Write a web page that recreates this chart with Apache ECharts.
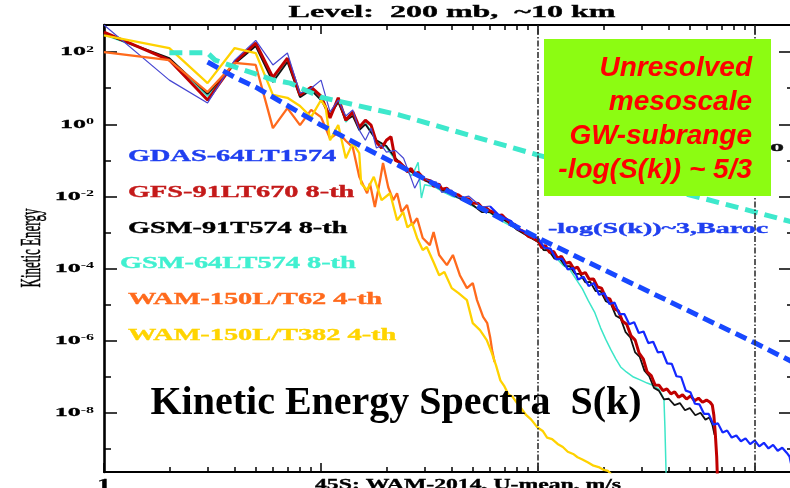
<!DOCTYPE html>
<html>
<head>
<meta charset="utf-8">
<script src="https://cdn.jsdelivr.net/npm/echarts@6/dist/echarts.min.js"></script>
<style>
  html, body { margin: 0; padding: 0; background: #ffffff; }
  #chart { width: 790px; height: 488px; }
</style>
</head>
<body>
<div id="chart"></div>
<script>
// Kinetic energy spectra S(k) at 200 mb: pairs of [wavenumber k, energy]
const gdas = [[1,560],[2,16.7],[3,3.9],[4,60],[5,210],[6,44],[7,94],[8,7.2],[9,10],[10,16.7],[11,2.2],[12,4.7],[13,1.7],[14,2.5],[15,0.69],[16,0.36],[17,0.78],[18,0.22],[19,0.26],[20,0.17],[22,0.19],[24,0.115],[26,0.032],[27,0.017],[29,0.039],[31,0.028],[34,0.025],[36,0.013],[40,0.015],[43,0.0091],[48,0.0102],[55,0.0051],[60,0.0054],[65,0.0033],[70,0.0025],[75,0.0021],[80,0.0013],[90,9.8e-4],
  [100,6.9e-4],[107,3.8e-4],[114,3.6e-4],[121,1.82e-4],[129,1.9e-4],[137,9.5e-5],[145,1.05e-4],[153,5.0e-5],[162,6.0e-5],[171,3.3e-5],[181,4.0e-5],[191,1.9e-5],[202,2.1e-5],[213,1.05e-5],[225,1.15e-5],[237,5.5e-6],[250,5.5e-6],[263,2.9e-6],[277,3.3e-6],[291,1.66e-6],[306,1.82e-6],[322,8.7e-7],[339,9.5e-7],[356,4.8e-7],[374,5.0e-7],[393,2.4e-7],[413,2.3e-7],[434,1.05e-7],[456,1.0e-7],[479,4.2e-8],[503,3.8e-8],[528,1.82e-8],[554,1.74e-8],[582,9.5e-9],[611,9.5e-9],[642,4.8e-9],[674,5.2e-9],[708,2.9e-9],[743,3.3e-9],[780,2.1e-9],[819,2.4e-9],[860,1.66e-9],[903,2.0e-9],[948,1.38e-9],[995,1.74e-9],[1045,1.2e-9],[1097,1.51e-9],[1152,1.05e-9],[1210,1.32e-9],[1270,9.1e-10],[1333,1.1e-9],[1400,7.9e-10],[1440,6.3e-10],[1470,3.5e-10],[1490,2.2e-10]];

const gfs = [[1,355],[2,60],[3,4.7],[4,53],[5,178],[6,20],[7,68],[8,6.5],[9,10.7],[10,6.0],[11,1.5],[12,5.4],[13,1.3],[14,2.2],[15,0.83],[16,1.3],[17,0.95],[18,0.32],[19,0.22],[20,0.36],[21,0.45],[22,0.10],[23,0.089],[24,0.069],[25,0.048],[26,0.060],[27,0.040],[28,0.047],[30,0.030],[32,0.027],[33,0.019],[35,0.022],[36,0.016],[38,0.017],[40,0.0123],[43,0.0110],[45,0.0090],[48,0.0085],[50,0.0066],[53,0.0064],[55,0.0050],[58,0.0047],[60,0.0040],[63,0.0036],[65,0.0029],[68,0.0031],[70,0.0026],[73,0.0021],[75,0.0016],[78,0.0017],[80,0.0013],[85,0.0011],[90,7.9e-4],[95,7.0e-4],
  [100,5.8e-4],[104,3.8e-4],[108,4.4e-4],[113,2.8e-4],[118,3.0e-4],[123,1.95e-4],[128,2.2e-4],[134,1.41e-4],[140,1.51e-4],[146,1.0e-4],[152,1.1e-4],[158,7.1e-5],[165,7.8e-5],[172,5.1e-5],[180,5.2e-5],[188,3.1e-5],[196,2.9e-5],[205,1.58e-5],[214,1.45e-5],[224,7.8e-6],[234,6.8e-6],[245,3.5e-6],[256,2.9e-6],[268,1.38e-6],[280,1.05e-6],[292,4.6e-7],[305,3.2e-7],[318,1.38e-7],[332,1.1e-7],[346,6.0e-8],[361,5.9e-8],[376,4.2e-8],[392,4.7e-8],[409,3.4e-8],[426,3.9e-8],[444,2.75e-8],[463,3.2e-8],[483,2.45e-8],[504,3.0e-8],[526,2.2e-8],[548,2.6e-8],[572,2.0e-8],[597,2.3e-8],[620,2.0e-8],[635,1.66e-8],[645,8.9e-9],[655,2.8e-9],[665,6.3e-10],[672,1e-10]];

const gsm91 = [[1,320],[2,68],[3,6.9],[4,47],[5,147],[6,14.8],[7,53],[8,5.6],[9,8.9],[10,4.7],[11,1.8],[12,4.1],[13,1.3],[14,1.7],[15,0.69],[16,1.0],[18,0.36],[20,0.25],[22,0.115],[24,0.069],[26,0.048],[28,0.042],[30,0.028],[33,0.022],[36,0.015],[40,0.0117],[45,0.0079],[50,0.0058],[55,0.0037],[60,0.0037],[65,0.0026],[70,0.0022],[75,0.0017],[80,0.0012],[90,7.9e-4],
  [100,5.5e-4],[106,3.3e-4],[112,3.2e-4],[119,1.9e-4],[126,1.9e-4],[133,1.2e-4],[140,1.17e-4],[148,7.2e-5],[156,7.2e-5],[165,4.2e-5],[174,4.3e-5],[184,2.4e-5],[194,2.4e-5],[205,1.26e-5],[216,1.1e-5],[228,5.0e-6],[240,4.2e-6],[253,1.74e-6],[266,1.26e-6],[280,4.8e-7],[294,3.6e-7],[309,1.5e-7],[325,1.05e-7],[342,5.0e-8],[360,4.2e-8],[380,2.4e-8],[400,2.5e-8],[425,1.66e-8],[450,1.9e-8],[475,1.2e-8],[500,1.38e-8],[530,8.7e-9],[560,1.02e-8],[590,6.6e-9],[615,7.6e-9],[635,4.8e-9],[650,2.5e-9]];

const gsm64 = [[1,300],[2,66],[3,6.0],[4,50],[5,155],[6,16.7],[7,60],[8,6.0],[9,10],[10,5.4],[11,1.58],[12,4.7],[13,1.15],[14,1.8],[15,0.78],[16,1.15],[18,0.34],[20,0.23],[22,0.10],[24,0.069],[26,0.037],[27,0.054],[28,0.089],[29,0.0091],[30,0.021],[33,0.019],[36,0.014],[40,0.0102],[45,0.0085],[50,0.0054],[60,0.0035],[70,0.0019],[80,0.00126],[90,7.9e-4],
  [100,5.5e-4],[110,3.2e-4],[120,2.1e-4],[130,1.26e-4],[140,9.5e-5],[150,5.0e-5],[160,2.75e-5],[170,1.32e-5],[182,6.3e-6],[194,2.3e-6],[205,1.1e-6],[216,5.8e-7],[228,3.2e-7],[240,1.9e-7],[255,1.38e-7],[275,1.0e-7],[295,8.3e-8],[318,6.8e-8],[340,5.8e-8],[360,4.6e-8],[380,2.5e-8],[384,4.0e-9],[387,6.3e-10],[390,1e-10]];

const wamT62 = [[1,100],[2,60],[3,7.8],[4,50],[5,44],[6,0.78],[7,2.8],[8,0.95],[9,2.5],[10,1.58],[11,0.40],[12,0.60],[13,0.35],[14,0.23],[15,0.035],[16.3,0.0123],[16.8,0.023],[17.7,0.0051],[18.7,0.028],[19.3,0.085],[20.4,0.018],[21.5,0.0079],[22.4,0.0123],[23.5,0.0037],[24.9,0.0058],[26.3,0.0016],[27.7,0.0025],[29.4,7.1e-4],[31.7,4.5e-4],[33,0.00103],[35,2.4e-4],[38,1.26e-4],[40.5,2.4e-4],[43.6,6.6e-5],[47,2.9e-5],[50,4.0e-5],[52.3,1.35e-5],[55.8,4.6e-6],[58.3,3.1e-6],[60.1,1.29e-6],[61.4,5.5e-7],[63,2.6e-7]];

const wamT382 = [[1,290],[2,129],[3,13.8],[4,129],[5,94],[6,6.5],[7,5.4],[8,3.2],[9,1.58],[10,4.7],[10.5,3.0],[11,0.36],[12,0.95],[13,0.115],[14,0.30],[15,0.158],[15.3,0.023],[16.3,0.015],[17.5,0.035],[19,0.0079],[20.8,0.0123],[22.4,0.0022],[23.9,0.0037],[25,0.0014],[26.3,0.0018],[27.7,7.1e-4],[29.4,3.3e-4],[30.7,4.0e-4],[33,1.51e-4],[35,6.6e-5],[37,8.1e-5],[40,2.9e-5],[43,2.1e-5],[47,1.35e-5],[50,3.1e-6],[54,2.0e-6],[58,1.05e-6],[61,4.9e-7],[64,2.1e-7],[67,8.1e-8],[70,5.5e-8],[73,3.3e-8],[76,2.9e-8],[80,1.9e-8],[84,1.3e-8],[88,8.9e-9],[93,6.6e-9],[99,4.1e-9],[105,3.2e-9],[110,2.1e-9],[116,1.9e-9],[123,1.4e-9],[130,1.15e-9],[137,8.5e-10],[145,7.4e-10],[152,6.0e-10],[160,5.2e-10],[170,4.3e-10],[180,3.5e-10],[190,3.2e-10],[200,2.7e-10],[210,2.5e-10],[218,2.0e-10],[225,1e-10]];

// Reference slopes: -5/3 (mesoscale) and -3 (baroclinic)
const slopeMeso = [[2,95],[3,95],[3.25,60],[4.4,32],[6,17],[7.2,13.8],[10,5.6],[23,1.8],[100,0.14],[1000,0.0037],[1510,0.0019]];
const slopeBaroc = [[3,53],[4,20],[5,10.7],[10,0.95],[100,7.1e-4],[1000,8.7e-7],[1510,2.5e-7]];

const seriesNames = ['GDAS-64LT1574', 'GFS-91LT670 8-th', 'GSM-91T574 8-th', 'GSM-64LT574 8-th', 'WAM-150L/T62 4-th', 'WAM-150L/T382 4-th'];
const lineColors = ['#4646d2', '#c00000', '#111111', '#3de6c8', '#ff6a1c', '#ffd200'];
const labelColors = ['#1f3ff0', '#c41a1a', '#000000', '#40f0d0', '#ff6a1c', '#ffd400'];
const lineWidths = [1.2, 3.0, 1.8, 1.5, 2.3, 2.3];
// the dense, noisy tail of the GDAS spectrum is drawn heavier
const gdasTailStart = 60;
const gdasTailColor = '#1428ff';
const gdasTailWidth = 2.2;

// Axis ranges and ticks
const kRange = [1, 1510];
const eRange = [2.34e-10, 562];
const kMajorTicks = [1, 10, 100, 1000];
const kMinorTicks = [2,3,4,5,6,7,8,9,20,30,40,50,60,70,80,90,200,300,400,500,600,700,800,900];
const eLabelExponents = [2, 0, -2, -4, -6, -8];
const eMinorExponents = [1, -1, -3, -5, -7, -9];
const kTickLabels = ['1'];
const kMarkers = [100, 1000];

const lg = Math.log10;
const toLog = pts => pts.map(p => [lg(p[0]), lg(p[1])]);

function xAxisCfg(position, ticks, len, lineWidth) {
  return {
    type: 'value', position, min: lg(kRange[0]), max: lg(kRange[1]),
    axisLine: { show: lineWidth > 0, onZero: false, lineStyle: { color: '#000', width: lineWidth } },
    axisTick: { show: true, inside: true, length: len, customValues: ticks.map(lg), lineStyle: { color: '#000', width: 1.5 } },
    axisLabel: { show: false }, splitLine: { show: false }
  };
}
function yAxisCfg(position, exps, len, lineWidth) {
  return {
    type: 'value', position, min: lg(eRange[0]), max: lg(eRange[1]),
    axisLine: { show: lineWidth > 0, onZero: false, lineStyle: { color: '#000', width: lineWidth } },
    axisTick: { show: true, inside: true, length: len, customValues: exps, lineStyle: { color: '#000', width: 1.5 } },
    axisLabel: { show: false }, splitLine: { show: false }
  };
}

const spectra = [gdas, gfs, gsm91, gsm64, wamT62, wamT382];
const drawOrder = [3, 2, 1, 0, 4, 5];

const series = [];
drawOrder.forEach(i => {
  const base = {
    name: seriesNames[i], type: 'line', xAxisIndex: 0, yAxisIndex: 0,
    symbol: 'none', silent: true, clip: true, z: 3
  };
  if (i === 0) {
    series.push(Object.assign({}, base, {
      data: toLog(spectra[i].filter(p => p[0] <= gdasTailStart)),
      lineStyle: { color: lineColors[i], width: lineWidths[i] }
    }));
    series.push(Object.assign({}, base, {
      data: toLog(spectra[i].filter(p => p[0] >= gdasTailStart)),
      lineStyle: { color: gdasTailColor, width: gdasTailWidth }
    }));
  } else {
    series.push(Object.assign({}, base, {
      data: toLog(spectra[i]),
      lineStyle: { color: lineColors[i], width: lineWidths[i] }
    }));
  }
});

series.push({
  name: 'k^-5/3', type: 'line', data: toLog(slopeMeso), xAxisIndex: 0, yAxisIndex: 0,
  symbol: 'none', silent: true, z: 4,
  lineStyle: { color: '#3ee8cc', width: 5, type: [13, 7] }
});
series.push({
  name: 'k^-3', type: 'line', data: toLog(slopeBaroc), xAxisIndex: 0, yAxisIndex: 0,
  symbol: 'none', silent: true, z: 4,
  lineStyle: { color: '#1848ff', width: 5, type: [12, 6] },
  markLine: {
    silent: true, symbol: 'none', label: { show: false },
    lineStyle: { color: '#333', width: 1.6, type: [6, 2, 1.5, 2] },
    data: kMarkers.map(k => ({ xAxis: lg(k) }))
  }
});

const chart = echarts.init(document.getElementById('chart'), null, { renderer: 'canvas' });
chart.setOption({
  animation: false,
  backgroundColor: '#ffffff',
  grid: { left: 104, top: 25, right: -4, bottom: 16, containLabel: false, outerBoundsMode: 'none' },
  xAxis: [
    xAxisCfg('bottom', kMajorTicks, 9, 2.2),
    xAxisCfg('bottom', kMinorTicks, 5, 0),
    xAxisCfg('top', kMajorTicks, 9, 1.8),
    xAxisCfg('top', kMinorTicks, 5, 0)
  ],
  yAxis: [
    yAxisCfg('left', eLabelExponents, 13, 2.6),
    yAxisCfg('left', eMinorExponents, 7, 0),
    yAxisCfg('right', eLabelExponents, 15, 2),
    yAxisCfg('right', eMinorExponents, 7, 0)
  ],
  series
});

// Text drawn in the plotting style (wide serif lettering)
const serif = '"Liberation Serif", "Times New Roman", serif';
const elements = [];

function wideText(text, x, y, opts) {
  const fill = opts.fill || '#000';
  return Object.assign({
    type: 'text', x, y, z: 60, silent: true,
    style: Object.assign({
      text, fill, stroke: fill, lineWidth: opts.stroke == null ? 0.35 : opts.stroke,
      font: opts.font, textAlign: opts.align || 'left', align: opts.align || 'left',
      textVerticalAlign: 'middle', verticalAlign: 'middle'
    }, opts.style || {})
  }, opts.el || {});
}

// Title
elements.push(wideText('Level:  200 mb,  ~10 km', 452, 13, { font: 'bold 16px ' + serif, align: 'center', el: { scaleX: 2.0 } }));

// Y tick labels 10^n placed through the value axis
eLabelExponents.forEach(n => {
  const y = chart.convertToPixel({ yAxisIndex: 0 }, n);
  elements.push({
    type: 'text', x: 94, y, z: 60, scaleX: 2.0, silent: true,
    style: {
      text: '{b|10}{s|' + n + '}',
      textAlign: 'right', align: 'right', textVerticalAlign: 'middle', verticalAlign: 'middle',
      rich: {
        b: { fontFamily: serif, fontWeight: 'bold', fontSize: 13, fill: '#000', stroke: '#000', lineWidth: 0.3, lineHeight: 13 },
        s: { fontFamily: serif, fontWeight: 'bold', fontSize: 8, fill: '#000', verticalAlign: 'top', lineHeight: 13 }
      }
    }
  });
});

// X tick label
kTickLabels.forEach(t => {
  const x = chart.convertToPixel({ xAxisIndex: 0 }, lg(Number(t)));
  elements.push(wideText(t, x, 485, { font: 'bold 15px ' + serif, align: 'center', el: { scaleX: 1.8 } }));
});

// Axis titles
elements.push(wideText('45S: WAM-2014, U-mean, m/s', 315, 485, { font: 'bold 15px ' + serif, el: { scaleX: 1.58 } }));
elements.push(wideText('Kinetic Energy', 32, 248, { font: '13px ' + serif, align: 'center', stroke: 0.25, el: { rotation: Math.PI / 2, scaleY: 2.2 } }));

// Series labels
const labelPos = [[128, 157], [128, 193], [128, 229], [120, 264], [128, 300], [128, 336]];
seriesNames.forEach((name, i) => {
  elements.push(wideText(name, labelPos[i][0], labelPos[i][1], { font: 'bold 16px ' + serif, fill: labelColors[i], el: { scaleX: 1.77 } }));
});

// Slope labels
elements.push(wideText('-log(S(k))~3,Baroc', 548, 229, { font: 'bold 14px ' + serif, fill: '#1f3ff0', el: { scaleX: 2.0 } }));
elements.push(wideText('Meso', 784, 147, { font: 'bold 14px ' + serif, fill: '#111', align: 'right', el: { scaleX: 2.0, z: 55 } }));

// Highlight box
elements.push({ type: 'rect', z: 70, silent: true, shape: { x: 544, y: 39, width: 227, height: 157 }, style: { fill: '#8cfc12' } });
elements.push({
  type: 'text', x: 752, y: 51, z: 71, silent: true,
  style: {
    text: 'Unresolved\nmesoscale\nGW-subrange\n-log(S(k)) ~ 5/3',
    font: 'italic bold 28px "Liberation Sans", Arial, sans-serif', fill: '#ff0000',
    textAlign: 'right', align: 'right', textVerticalAlign: 'top', verticalAlign: 'top', lineHeight: 34
  }
});

// Headline
elements.push({
  type: 'text', x: 396, y: 404, z: 65, silent: true,
  style: {
    text: 'Kinetic Energy Spectra  S(k)', font: 'bold 40px ' + serif, fill: '#000',
    textAlign: 'center', align: 'center', textVerticalAlign: 'middle', verticalAlign: 'middle'
  }
});

chart.setOption({ graphic: { elements } });
</script>
</body>
</html>
